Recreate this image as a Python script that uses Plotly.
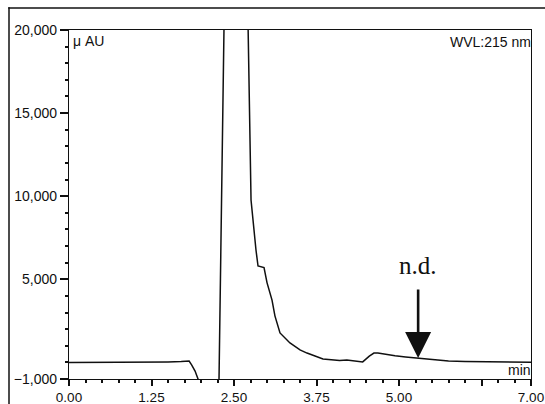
import plotly.graph_objects as go

# Chromatogram trace: retention time (min) vs detector response (µAU)
time_min = [0.00, 0.50, 1.00, 1.50, 1.70, 1.82, 1.86, 1.91, 1.955, 2.05, 2.15,
            2.273, 2.348, 2.45, 2.55, 2.65, 2.712, 2.758, 2.833, 2.864, 2.955,
            3.00, 3.076, 3.12, 3.197, 3.27, 3.348, 3.50, 3.606, 3.848, 4.10,
            4.21, 4.41, 4.45, 4.55, 4.62, 4.68, 4.80, 4.94, 5.10, 5.27, 5.50,
            5.75, 6.00, 6.50, 7.00]
response_uau = [0, 0, 10, 30, 50, 80, -160, -520, -1000, -2500, -2500,
                -1000, 20000, 45000, 45000, 35000, 20000, 9770, 6760, 5800, 5700,
                4800, 3750, 2800, 1770, 1500, 1170, 750, 560, 200, 110,
                140, 70, 30, 380, 560, 560, 480, 400, 330, 260, 140,
                80, 50, 20, 10]

y_tick_vals = [-1000, 5000, 10000, 15000, 20000]
y_tick_text = ["\u22121,000", "5,000", "10,000", "15,000", "20,000"]
x_tick_vals = [0.00, 1.25, 2.50, 3.75, 5.00, 6.25, 7.00]
x_tick_text = ["0.00", "1.25", "2.50", "3.75", "5.00", "", "7.00"]
x_range = [0, 7]
y_range = [-1000, 20000]
x_minor_step = 0.25
y_minor_step = 1000

# Position of the "not detected" marker on the time axis
nd_time = 5.29
nd_tip_value = 260
nd_label_value = 5800

# Page size and plot-area edges in pixels (left, right, top, bottom)
W, H = 545, 404
PL, PR, PT, PB = 69, 531, 30, 379
x_domain = [PL / W, PR / W]
y_domain = [(H - PB) / H, (H - PT) / H]

INK = "#101010"

fig = go.Figure()
fig.add_trace(go.Scatter(
    x=time_min, y=response_uau, mode="lines",
    line=dict(color=INK, width=1.5),
    hoverinfo="skip", showlegend=False,
))

y_font = dict(family="Liberation Sans, Arial, sans-serif", size=14, color=INK)
x_font = dict(family="Liberation Sans, Arial, sans-serif", size=13.5, color=INK)

fig.update_layout(
    xaxis=dict(
        domain=x_domain, range=x_range,
        showline=True, linecolor=INK, linewidth=1.3, mirror=True,
        showgrid=False, zeroline=False, automargin=False,
        tickmode="array", tickvals=x_tick_vals, ticktext=x_tick_text,
        ticks="outside", ticklen=6, tickwidth=1.8, tickcolor=INK,
        tickfont=x_font,
        minor=dict(tickmode="linear", tick0=0, dtick=x_minor_step, ticks="outside",
                   ticklen=3, tickwidth=1.8, tickcolor=INK, showgrid=False),
    ),
    yaxis=dict(
        domain=y_domain, range=y_range,
        showline=True, linecolor=INK, linewidth=1.3, mirror=True,
        showgrid=False, zeroline=False, automargin=False,
        tickmode="array", tickvals=y_tick_vals, ticktext=y_tick_text,
        ticks="outside", ticklen=8, tickwidth=1.5, tickcolor=INK,
        tickfont=y_font,
        minor=dict(tickmode="linear", tick0=0, dtick=y_minor_step, ticks="outside",
                   ticklen=3, tickwidth=1.8, tickcolor=INK, showgrid=False),
    ),
)

label_font = dict(family="Liberation Sans, Arial, sans-serif", size=14, color=INK)
annotations = [
    dict(xref="x domain", yref="y domain", x=0, y=1, xanchor="left", yanchor="top",
         xshift=2, yshift=-1, text="\u03bc AU", showarrow=False, font=label_font),
    dict(xref="x domain", yref="y domain", x=1, y=1, xanchor="right", yanchor="top",
         xshift=2, yshift=-2, text="WVL:215 nm", showarrow=False, font=label_font),
    dict(xref="x domain", yref="y domain", x=1, y=0, xanchor="right", yanchor="bottom",
         xshift=2, yshift=-1, text="min", showarrow=False, font=label_font),
    dict(xref="x", yref="y", x=nd_time, y=nd_label_value, xanchor="center",
         yanchor="middle", text="n.d.", showarrow=False,
         font=dict(family="Liberation Serif, Times New Roman, serif", size=25,
                   color=INK)),
    dict(xref="x", yref="y", x=nd_time, y=nd_tip_value, text="",
         showarrow=True, axref="pixel", ayref="pixel", ax=0, ay=-70,
         arrowhead=2, arrowsize=2.0, arrowwidth=2.6, arrowcolor=INK,
         standoff=0),
]

# Outer page frame of the record sheet: thin filled bars along its top and left edges
frame_x = 9 / W
frame_y = (H - 8) / H
bar_w = 1.5 / W
bar_h = 1.5 / H
shapes = [
    dict(type="rect", xref="paper", yref="paper",
         x0=frame_x - bar_w / 2, x1=1, y0=frame_y - bar_h / 2, y1=frame_y + bar_h / 2,
         line=dict(width=0), fillcolor=INK),
    dict(type="rect", xref="paper", yref="paper",
         x0=frame_x - bar_w / 2, x1=frame_x + bar_w / 2, y0=0, y1=frame_y + bar_h / 2,
         line=dict(width=0), fillcolor=INK),
]

fig.update_layout(
    width=W, height=H,
    margin=dict(l=0, r=0, t=0, b=0, pad=0),
    paper_bgcolor="white", plot_bgcolor="white",
    annotations=annotations, shapes=shapes,
    showlegend=False,
)

fig.write_html("out.html")
